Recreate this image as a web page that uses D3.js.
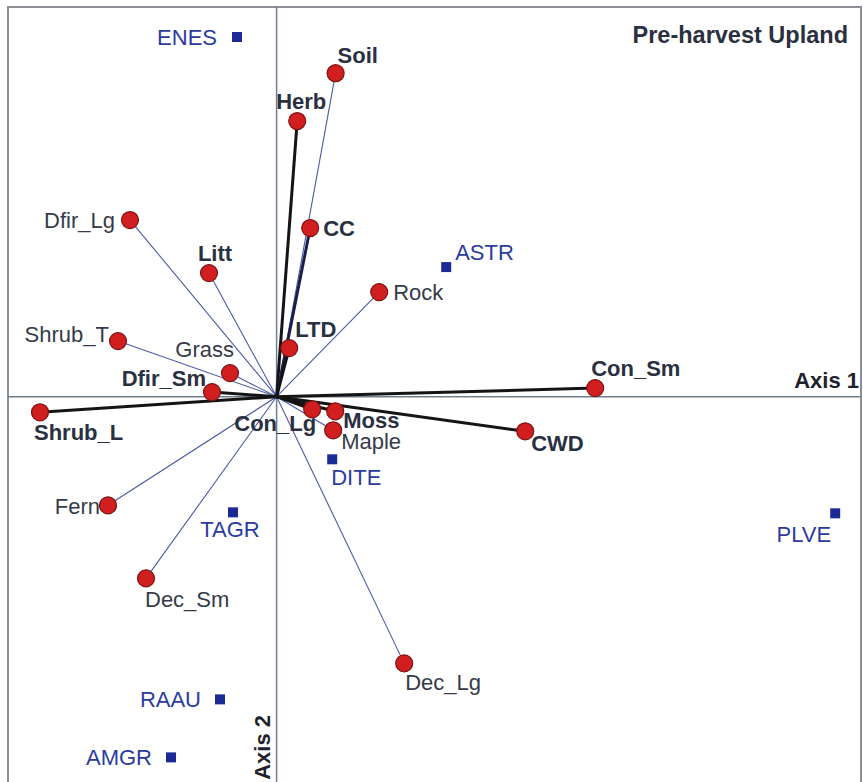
<!DOCTYPE html>
<html>
<head>
<meta charset="utf-8">
<script src="https://cdn.jsdelivr.net/npm/d3@7"></script>
<style>
  html, body { margin: 0; padding: 0; background: #fff; }
  svg { display: block; }
  text { font-family: "Liberation Sans", Arial, sans-serif; }
</style>
</head>
<body>
<svg id="chart" width="863" height="782"></svg>
<script>
// Ordination biplot: environmental vectors and species scores
const envNames = ["Soil", "Herb", "CC", "Dfir_Lg", "Litt", "Rock", "LTD", "Shrub_T", "Grass",
  "Dfir_Sm", "Shrub_L", "Con_Lg", "Moss", "Maple", "Con_Sm", "CWD", "Fern", "Dec_Sm", "Dec_Lg"];
const envAxis1 = [0.295, 0.103, 0.168, -0.733, -0.338, 0.513, 0.063, -0.793, -0.233,
  -0.323, -1.183, 0.178, 0.293, 0.283, 1.593, 1.243, -0.843, -0.653, 0.638];
const envAxis2 = [1.617, 1.378, 0.843, 0.883, 0.618, 0.523, 0.243, 0.278, 0.118,
  0.023, -0.078, -0.063, -0.073, -0.168, 0.043, -0.173, -0.543, -0.908, -1.333];
// variables significant in the ordination (drawn as heavy vectors)
const significantVars = ["Herb", "CC", "LTD", "Dfir_Sm", "Shrub_L", "Con_Lg", "Moss", "Con_Sm", "CWD"];
// variables whose labels are set in bold
const boldVars = ["Soil", "Herb", "CC", "Litt", "LTD", "Dfir_Sm", "Shrub_L", "Con_Lg", "Moss", "Con_Sm", "CWD"];

const speciesNames = ["ENES", "ASTR", "DITE", "TAGR", "PLVE", "RAAU", "AMGR"];
const speciesAxis1 = [-0.198, 0.848, 0.278, -0.218, 2.793, -0.283, -0.528];
const speciesAxis2 = [1.798, 0.648, -0.313, -0.578, -0.583, -1.513, -1.803];

const titleText = "Pre-harvest Upland";
const axisNames = ["Axis 1", "Axis 2"];

// label placement relative to each marker: [dx, dy, anchor]
const envLabelPos = {
  Soil: [2, -10, "start"], Herb: [4, -12, "middle"], CC: [13, 8, "start"],
  Dfir_Lg: [-15, 8, "end"], Litt: [6, -12, "middle"], Rock: [14, 8, "start"],
  LTD: [6, -11, "start"], Shrub_T: [-9, 1, "end"], Grass: [4, -16, "end"],
  Dfir_Sm: [-6, -6, "end"], Shrub_L: [-6, 28, "start"], Con_Lg: [4, 22, "end"],
  Moss: [8, 17, "start"], Maple: [8, 19, "start"], Con_Sm: [-4, -12, "start"],
  CWD: [6, 20, "start"], Fern: [-8, 9, "end"], Dec_Sm: [-1, 29, "start"],
  Dec_Lg: [1, 27, "start"]
};
const speciesLabelPos = {
  ENES: [-20, 8, "end"], ASTR: [9, -7, "start"], DITE: [-1, 26, "start"],
  TAGR: [-3, 25, "middle"], PLVE: [-4, 29, "end"], RAAU: [-19, 8, "end"],
  AMGR: [-19, 8, "end"]
};

const svg = d3.select("#chart");
const frame = { left: 8, right: 861, top: 7, bottom: 792 };

const x = d3.scaleLinear().domain([-1.343, 2.922]).range([frame.left, frame.right]);
const y = d3.scaleLinear().domain([-1.976, 1.948]).range([frame.bottom, frame.top]);

const env = envNames.map((n, i) => ({ name: n, a1: envAxis1[i], a2: envAxis2[i],
  sig: significantVars.includes(n), bold: boldVars.includes(n) }));
const species = speciesNames.map((n, i) => ({ name: n, a1: speciesAxis1[i], a2: speciesAxis2[i] }));

// frame
svg.append("rect")
  .attr("x", frame.left).attr("y", frame.top)
  .attr("width", frame.right - frame.left).attr("height", frame.bottom - frame.top)
  .attr("fill", "none").attr("stroke", "#8c9096").attr("stroke-width", 2);

// ordination axes through the origin
svg.append("line")
  .attr("x1", frame.left).attr("x2", frame.right)
  .attr("y1", y(0)).attr("y2", y(0))
  .attr("stroke", "#6f7f8e").attr("stroke-width", 1.5);
svg.append("line")
  .attr("x1", x(0)).attr("x2", x(0))
  .attr("y1", frame.top).attr("y2", frame.bottom)
  .attr("stroke", "#6f7f8e").attr("stroke-width", 1.5);

// vectors: light ones first, heavy ones on top
const vec = svg.append("g");
vec.selectAll("line.thin").data(env.filter(d => !d.sig)).join("line")
  .attr("class", "thin")
  .attr("x1", x(0)).attr("y1", y(0))
  .attr("x2", d => x(d.a1)).attr("y2", d => y(d.a2))
  .attr("stroke", "#4a5aa6").attr("stroke-width", 1.1);
vec.selectAll("line.thick").data(env.filter(d => d.sig)).join("line")
  .attr("class", "thick")
  .attr("x1", x(0)).attr("y1", y(0))
  .attr("x2", d => x(d.a1)).attr("y2", d => y(d.a2))
  .attr("stroke", d => d.name === "CC" ? "#1a1f4a" : "#141414")
  .attr("stroke-width", 3);

// species points
const sq = 10;
svg.append("g").selectAll("rect").data(species).join("rect")
  .attr("x", d => x(d.a1) - sq / 2).attr("y", d => y(d.a2) - sq / 2)
  .attr("width", sq).attr("height", sq)
  .attr("fill", "#1d2a96");

svg.append("g").selectAll("text").data(species).join("text")
  .attr("x", d => x(d.a1) + speciesLabelPos[d.name][0])
  .attr("y", d => y(d.a2) + speciesLabelPos[d.name][1])
  .attr("text-anchor", d => speciesLabelPos[d.name][2])
  .attr("font-size", 22)
  .attr("fill", "#2c3b9e")
  .text(d => d.name);

// environmental variable endpoints
svg.append("g").selectAll("circle").data(env).join("circle")
  .attr("cx", d => x(d.a1)).attr("cy", d => y(d.a2))
  .attr("r", 8.5)
  .attr("fill", "#d11f1f")
  .attr("stroke", "#7d1414").attr("stroke-width", 1.2);

svg.append("g").selectAll("text").data(env).join("text")
  .attr("x", d => x(d.a1) + envLabelPos[d.name][0])
  .attr("y", d => y(d.a2) + envLabelPos[d.name][1])
  .attr("text-anchor", d => envLabelPos[d.name][2])
  .attr("font-size", 22)
  .attr("font-weight", d => d.bold ? "bold" : "normal")
  .attr("fill", d => d.bold ? "#29303f" : "#353b48")
  .text(d => d.name);

// title and axis names
svg.append("text")
  .attr("x", 848).attr("y", 43)
  .attr("text-anchor", "end")
  .attr("font-size", 23.5).attr("font-weight", "bold")
  .attr("fill", "#2a3040")
  .text(titleText);

svg.append("text")
  .attr("x", 859).attr("y", 388)
  .attr("text-anchor", "end")
  .attr("font-size", 22).attr("font-weight", "bold")
  .attr("fill", "#1e222c")
  .text(axisNames[0]);

svg.append("text")
  .attr("transform", "translate(270,715) rotate(-90)")
  .attr("text-anchor", "end")
  .attr("font-size", 22).attr("font-weight", "bold")
  .attr("fill", "#1e222c")
  .text(axisNames[1]);
</script>
</body>
</html>
